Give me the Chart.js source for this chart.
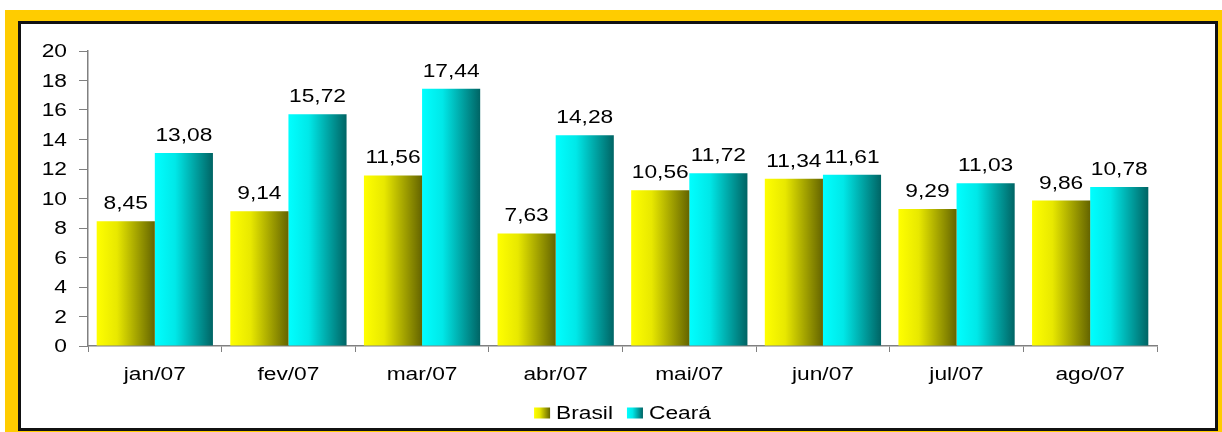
<!DOCTYPE html>
<html lang="pt">
<head>
    <meta charset="UTF-8">
    <title>Brasil x Ceará</title>
    <script src="https://cdn.jsdelivr.net/npm/chart.js"></script>
    <style>
        body { margin: 0; background: #fff; }
        #wrap { width: 1222px; height: 432px; }
    </style>
</head>
<body>
<div id="wrap"><canvas id="chart" width="1222" height="432"></canvas></div>
<script>
// data
const months = ['jan/07', 'fev/07', 'mar/07', 'abr/07', 'mai/07', 'jun/07', 'jul/07', 'ago/07'];
const brasil = [8.45, 9.14, 11.56, 7.63, 10.56, 11.34, 9.29, 9.86];
const ceara = [13.08, 15.72, 17.44, 14.28, 11.72, 11.61, 11.03, 10.78];
const yTicks = [0, 2, 4, 6, 8, 10, 12, 14, 16, 18, 20];

const gradStops = {
    Brasil: ['#ffff00', '#e8e800', '#646400'],
    'Ceará': ['#00ffff', '#00e8e8', '#006464']
};

const FONT = '17.5px "Liberation Sans", Arial, sans-serif';
const STRETCH = 1.3; // the original text is drawn wide

function hGrad(ctx, x0, x1, stops) {
    const g = ctx.createLinearGradient(x0, 0, x1, 0);
    g.addColorStop(0, stops[0]);
    g.addColorStop(0.35, stops[1]);
    g.addColorStop(1, stops[2]);
    return g;
}

function wideText(c, txt, x, y, align) {
    c.save();
    c.translate(x, y);
    c.scale(STRETCH, 1);
    c.textAlign = align;
    c.fillText(txt, 0, 0);
    c.restore();
}

function wideWidth(c, txt) {
    return c.measureText(txt).width * STRETCH;
}

// yellow frame with black bordered white panel
const framePlugin = {
    id: 'frame',
    beforeDraw(chart) {
        const c = chart.ctx;
        c.save();
        c.fillStyle = '#ffffff';
        c.fillRect(0, 0, chart.width, chart.height);
        c.fillStyle = '#ffcc00';
        c.fillRect(5, 10, chart.width - 5, chart.height - 10);
        c.fillStyle = '#ffffff';
        c.fillRect(19, 22, 1198, 408);
        c.strokeStyle = '#111';
        c.lineWidth = 3;
        c.strokeRect(19.5, 22.5, 1197, 407);
        c.restore();
    }
};

// horizontal gradient on every bar
const gradientPlugin = {
    id: 'barGradient',
    beforeDatasetsDraw(chart) {
        chart.data.datasets.forEach((ds, i) => {
            chart.getDatasetMeta(i).data.forEach(bar => {
                const half = bar.width / 2;
                bar.options.backgroundColor = hGrad(chart.ctx, bar.x - half, bar.x + half, gradStops[ds.label]);
            });
        });
    }
};

// all texts: values, tick labels, legend
const textPlugin = {
    id: 'texts',
    afterDraw(chart) {
        const c = chart.ctx;
        const xs = chart.scales.x, ys = chart.scales.y;
        c.save();
        c.font = FONT;
        c.fillStyle = '#000';
        c.textBaseline = 'alphabetic';

        // values above bars
        chart.data.datasets.forEach((ds, i) => {
            chart.getDatasetMeta(i).data.forEach((bar, j) => {
                wideText(c, ds.data[j].toFixed(2).replace('.', ','), bar.x, bar.y - 12, 'center');
            });
        });

        // y tick labels
        yTicks.forEach(v => {
            wideText(c, String(v), xs.left - 21, ys.getPixelForValue(v) + 6, 'right');
        });

        // x tick labels
        months.forEach((m, i) => {
            wideText(c, m, xs.getPixelForValue(i), ys.bottom + 34, 'center');
        });

        // legend
        const bw = 16, bh = 11, gapIn = 6, gapOut = 14;
        const items = chart.data.datasets.map(ds => ({ label: ds.label, w: wideWidth(c, ds.label) }));
        const total = items.reduce((s, it) => s + bw + gapIn + it.w, 0) + gapOut * (items.length - 1);
        let x = (chart.chartArea.left + chart.chartArea.right) / 2 - total / 2;
        const ly = 413;
        items.forEach(it => {
            c.fillStyle = hGrad(c, x, x + bw, gradStops[it.label]);
            c.fillRect(x, ly - bh / 2, bw, bh);
            c.fillStyle = '#000';
            wideText(c, it.label, x + bw + gapIn, ly + 6, 'left');
            x += bw + gapIn + it.w + gapOut;
        });
        c.restore();
    }
};

new Chart(document.getElementById('chart'), {
    type: 'bar',
    data: {
        labels: months,
        datasets: [
            { label: 'Brasil', data: brasil, backgroundColor: () => '#dddd00', borderWidth: 0 },
            { label: 'Ceará', data: ceara, backgroundColor: () => '#00dddd', borderWidth: 0 }
        ]
    },
    options: {
        responsive: false,
        animation: false,
        devicePixelRatio: 1,
        layout: { padding: { left: 20, right: 65, top: 51, bottom: 42 } },
        datasets: { bar: { categoryPercentage: 0.87, barPercentage: 1 } },
        scales: {
            x: {
                grid: { offset: true, drawOnChartArea: false, color: '#808080', tickLength: 6 },
                border: { color: '#808080', width: 1.5 },
                ticks: { display: false },
                afterFit: s => { s.height = 44; }
            },
            y: {
                min: 0, max: 20,
                afterBuildTicks: s => { s.ticks = yTicks.map(v => ({ value: v })); },
                grid: { drawOnChartArea: false, color: '#808080', tickLength: 9 },
                border: { color: '#808080', width: 1.5 },
                ticks: { display: false },
                afterFit: s => { s.width = 68; }
            }
        },
        plugins: {
            legend: { display: false },
            tooltip: { enabled: false }
        }
    },
    plugins: [framePlugin, gradientPlugin, textPlugin]
});
</script>
</body>
</html>
